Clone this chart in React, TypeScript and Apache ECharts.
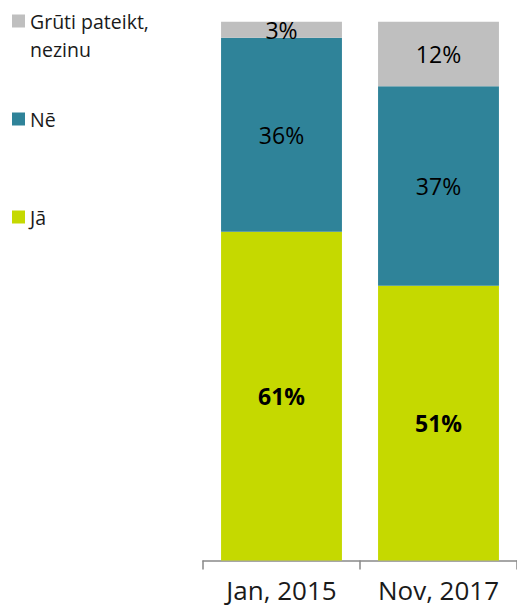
import React, { useEffect, useRef } from "react";
import * as echarts from "echarts";

const categories = ["Jan, 2015", "Nov, 2017"];
const jaValues = [61, 51];
const neValues = [36, 37];
const gruti = [3, 12];
const seriesNames = ["Jā", "Nē", "Grūti pateikt, nezinu"];

const FONT = "'Open Sans', 'Noto Sans', sans-serif";

export default function App() {
  const ref = useRef<HTMLDivElement>(null);
  useEffect(() => {
    if (!ref.current) return;
    const chart = echarts.init(ref.current, undefined, { renderer: "svg" });
    const lbl = (bold: boolean) => ({
      show: true,
      position: "inside",
      formatter: "{c}%",
      color: "#000",
      fontFamily: FONT,
      fontSize: 23,
      fontWeight: bold ? "bold" : "normal",
    });
    const legendBase = {
      orient: "vertical",
      left: 7,
      itemWidth: 13,
      itemHeight: 13,
      icon: "rect",
      textStyle: { fontFamily: FONT, fontSize: 19.5, color: "#1a1a1a", lineHeight: 28 },
      itemGap: 0,
      selectedMode: false,
    };
    chart.setOption({
      animation: false,
      grid: { left: 203, right: -3.5, top: 21.7, bottom: 50.5 },
      legend: [
        {
          ...legendBase,
          top: -26,
          data: [seriesNames[2]],
          formatter: () => "\nGrūti pateikt,\nnezinu",
        },
        { ...legendBase, top: 100, data: [seriesNames[1]] },
        { ...legendBase, top: 198, data: [seriesNames[0]] },
      ],
      xAxis: {
        type: "category",
        data: categories,
        axisLine: { lineStyle: { color: "#898989", width: 1.5 } },
        axisTick: { show: true, length: 9, lineStyle: { color: "#898989", width: 1.5 } },
        axisLabel: {
          interval: 0,
          hideOverlap: false,
          fontFamily: FONT,
          fontSize: 26,
          color: "#1a1a1a",
          margin: 16,
        },
      },
      yAxis: {
        type: "value",
        min: 0,
        max: 100,
        show: false,
        splitLine: { show: false },
      },
      series: [
        {
          name: seriesNames[0],
          type: "bar",
          stack: "s",
          barWidth: "77%",
          data: jaValues,
          itemStyle: { color: "#C5D900" },
          label: lbl(true),
        },
        {
          name: seriesNames[1],
          type: "bar",
          stack: "s",
          data: neValues,
          itemStyle: { color: "#2F8399" },
          label: lbl(false),
        },
        {
          name: seriesNames[2],
          type: "bar",
          stack: "s",
          data: gruti,
          itemStyle: { color: "#BFBFBF" },
          label: lbl(false),
        },
      ],
    });
    return () => chart.dispose();
  }, []);
  return <div ref={ref} style={{ width: 517, height: 611, position: "absolute", left: 0, top: 0 }} />;
}
